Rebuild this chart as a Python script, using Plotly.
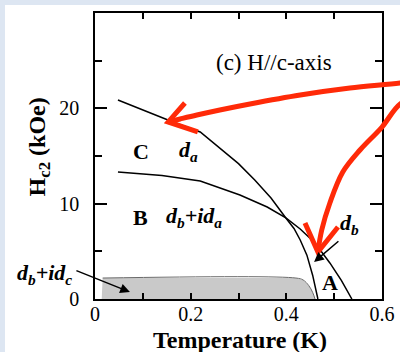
import plotly.graph_objects as go

# ---------------- data ----------------
c_T = [0.048, 0.163, 0.220, 0.261, 0.300, 0.334, 0.368, 0.399, 0.416, 0.429, 0.443, 0.455, 0.466]
c_H = [20.87, 18.57, 17.52, 15.84, 14.20, 12.48, 10.60, 8.50, 7.40, 6.19, 4.60, 2.50, 0.0]

b_T = [0.048, 0.140, 0.220, 0.303, 0.360, 0.399, 0.429, 0.460, 0.491, 0.515, 0.537]
b_H = [13.32, 12.95, 12.38, 10.91, 9.65, 8.50, 7.34, 5.87, 3.78, 1.95, 0.0]

gray_T = [0.014, 0.016, 0.420, 0.435, 0.447, 0.455, 0.460]
gray_H = [0.0, 2.2, 2.2, 2.0, 1.4, 0.7, 0.0]

# hand-drawn red arrows (in T / H units)
red1_T = [0.679, 0.638, 0.533, 0.429, 0.324, 0.261, 0.213, 0.178, 0.153]
red1_H = [22.97, 22.66, 22.13, 21.40, 20.46, 19.83, 19.30, 18.88, 18.57]
red1_head_T = [0.188, 0.153, 0.215]
red1_head_H = [20.56, 18.57, 17.52]

red2_T = [0.679, 0.638, 0.600, 0.554, 0.518, 0.491, 0.474, 0.466]
red2_H = [21.29, 20.46, 18.04, 15.63, 13.32, 10.07, 7.24, 4.93]
red2_head_T = [0.439, 0.466, 0.508]
red2_head_H = [7.97, 4.93, 7.55]

x_tickvals = [0, 0.2, 0.4, 0.6]
x_ticktext = ["0", "0.2", "0.4", "0.6"]
x_minor = [0.1, 0.3, 0.5]
y_tickvals = [0, 10, 20]
y_ticktext = ["0", "10", "20"]
y_minor = [5, 15, 25]

X_RANGE = [0, 0.6]
Y_RANGE = [0, 30]

# ---------------- layout geometry ----------------
W, H = 400, 352
px_l, px_r = 95, 382      # plot area left/right (pixels)
px_t, px_b = 13, 299      # plot area top/bottom (pixels)

sx = (px_r - px_l) / (X_RANGE[1] - X_RANGE[0])
sy = (px_b - px_t) / (Y_RANGE[1] - Y_RANGE[0])
x2_range = [X_RANGE[0] - px_l / sx, X_RANGE[1] + (W - px_r) / sx]
y2_range = [Y_RANGE[0] - (H - px_b) / sy, Y_RANGE[1] + px_t / sy]

FONT = "Liberation Serif, Times New Roman, serif"

fig = go.Figure()

# gray region d_b + i d_c
fig.add_trace(go.Scatter(x=gray_T, y=gray_H, fill="toself", fillcolor="#c9c9c9",
                         mode="none", hoverinfo="skip", xaxis="x", yaxis="y"))
fig.add_trace(go.Scatter(x=gray_T[1:], y=gray_H[1:], mode="lines",
                         line=dict(color="#6a6a6a", width=1), line_shape="spline",
                         hoverinfo="skip"))
# phase boundaries
fig.add_trace(go.Scatter(x=c_T, y=c_H, mode="lines", line=dict(color="black", width=1.5),
                         hoverinfo="skip"))
fig.add_trace(go.Scatter(x=b_T, y=b_H, mode="lines", line=dict(color="black", width=1.5),
                         hoverinfo="skip"))

# red hand-drawn arrows on the full-figure overlay axes
red = "#ff2a08"
for xs, ys, shp in [(red1_T, red1_H, "spline"), (red1_head_T, red1_head_H, "linear"),
                    (red2_T, red2_H, "spline"), (red2_head_T, red2_head_H, "linear")]:
    fig.add_trace(go.Scatter(x=xs, y=ys, mode="lines", xaxis="x2", yaxis="y2",
                             line=dict(color=red, width=5), line_shape=shp,
                             hoverinfo="skip"))

def lab(text, x, y, size=22, angle=0):
    fig.add_annotation(text=text, x=x, y=y, xref="x2", yref="y2", showarrow=False,
                       font=dict(family=FONT, size=size, color="black"),
                       xanchor="center", yanchor="middle", textangle=angle)

lab("(c) H//c-axis", 0.375, 24.76, size=23)
lab("<b>C</b>", 0.096, 15.5, size=22)
lab("<b><i>d<sub>a</sub></i></b>", 0.196, 15.5, size=22)
lab("<b>B</b>", 0.096, 8.6, size=22)
lab("<b><i>d<sub>b</sub>+id<sub>a</sub></i></b>", 0.207, 8.6, size=22)
lab("<b><i>d<sub>b</sub></i></b>", 0.533, 7.87, size=22)
lab("<b>A</b>", 0.491, 1.68, size=22)
lab("<b><i>d<sub>b</sub>+id<sub>c</sub></i></b>", -0.105, 2.62, size=22)
lab("<b>Temperature (K)</b>", 0.303, -4.3, size=24)
lab("<b>H<sub>c2</sub> (kOe)</b>", -0.117, 15.9, size=24, angle=-90)

# black arrows
for (tx, ty, ax_, ay_) in [(0.073, 0.73, -0.042, 3.04), (0.458, 3.88, 0.512, 6.19)]:
    fig.add_annotation(x=tx, y=ty, ax=ax_, ay=ay_, xref="x2", yref="y2",
                       axref="x2", ayref="y2", text="", showarrow=True,
                       arrowhead=2, arrowsize=1.3, arrowwidth=1.5, arrowcolor="black")

axis_common = dict(showline=True, linecolor="black", linewidth=1.5, mirror="ticks",
                   ticks="inside", tickwidth=1.5, tickcolor="black", showgrid=False,
                   zeroline=False, automargin=False,
                   tickfont=dict(family=FONT, size=20, color="black"))

fig.update_layout(
    template="none",
    width=W, height=H, margin=dict(l=0, r=0, t=0, b=0, pad=0), autosize=False,
    paper_bgcolor="#dde6f2", plot_bgcolor="rgba(0,0,0,0)", showlegend=False,
    xaxis=dict(domain=[px_l / W, px_r / W], range=X_RANGE, anchor="y",
               tickvals=x_tickvals, ticktext=x_ticktext, ticklen=6,
               minor=dict(tickvals=x_minor, ticks="inside", ticklen=6, tickwidth=1.5,
                          tickcolor="black", showgrid=False),
               ticklabelstandoff=-4, **axis_common),
    yaxis=dict(domain=[1 - px_b / H, 1 - px_t / H], range=Y_RANGE, anchor="x",
               tickvals=y_tickvals, ticktext=y_ticktext, ticklen=12,
               minor=dict(tickvals=y_minor, ticks="inside", ticklen=7, tickwidth=1.5,
                          tickcolor="black", showgrid=False),
               ticklabelstandoff=10, **axis_common),
    xaxis2=dict(domain=[0, 1], range=x2_range, anchor="y2", visible=False, automargin=False),
    yaxis2=dict(domain=[0, 1], range=y2_range, anchor="x2", visible=False, automargin=False),
    shapes=[dict(type="rect", xref="paper", yref="paper", x0=5 / W, x1=1,
                 y0=0, y1=1 - 5 / H, fillcolor="white", line=dict(width=0), layer="below")],
)

fig.write_html("out.html")
